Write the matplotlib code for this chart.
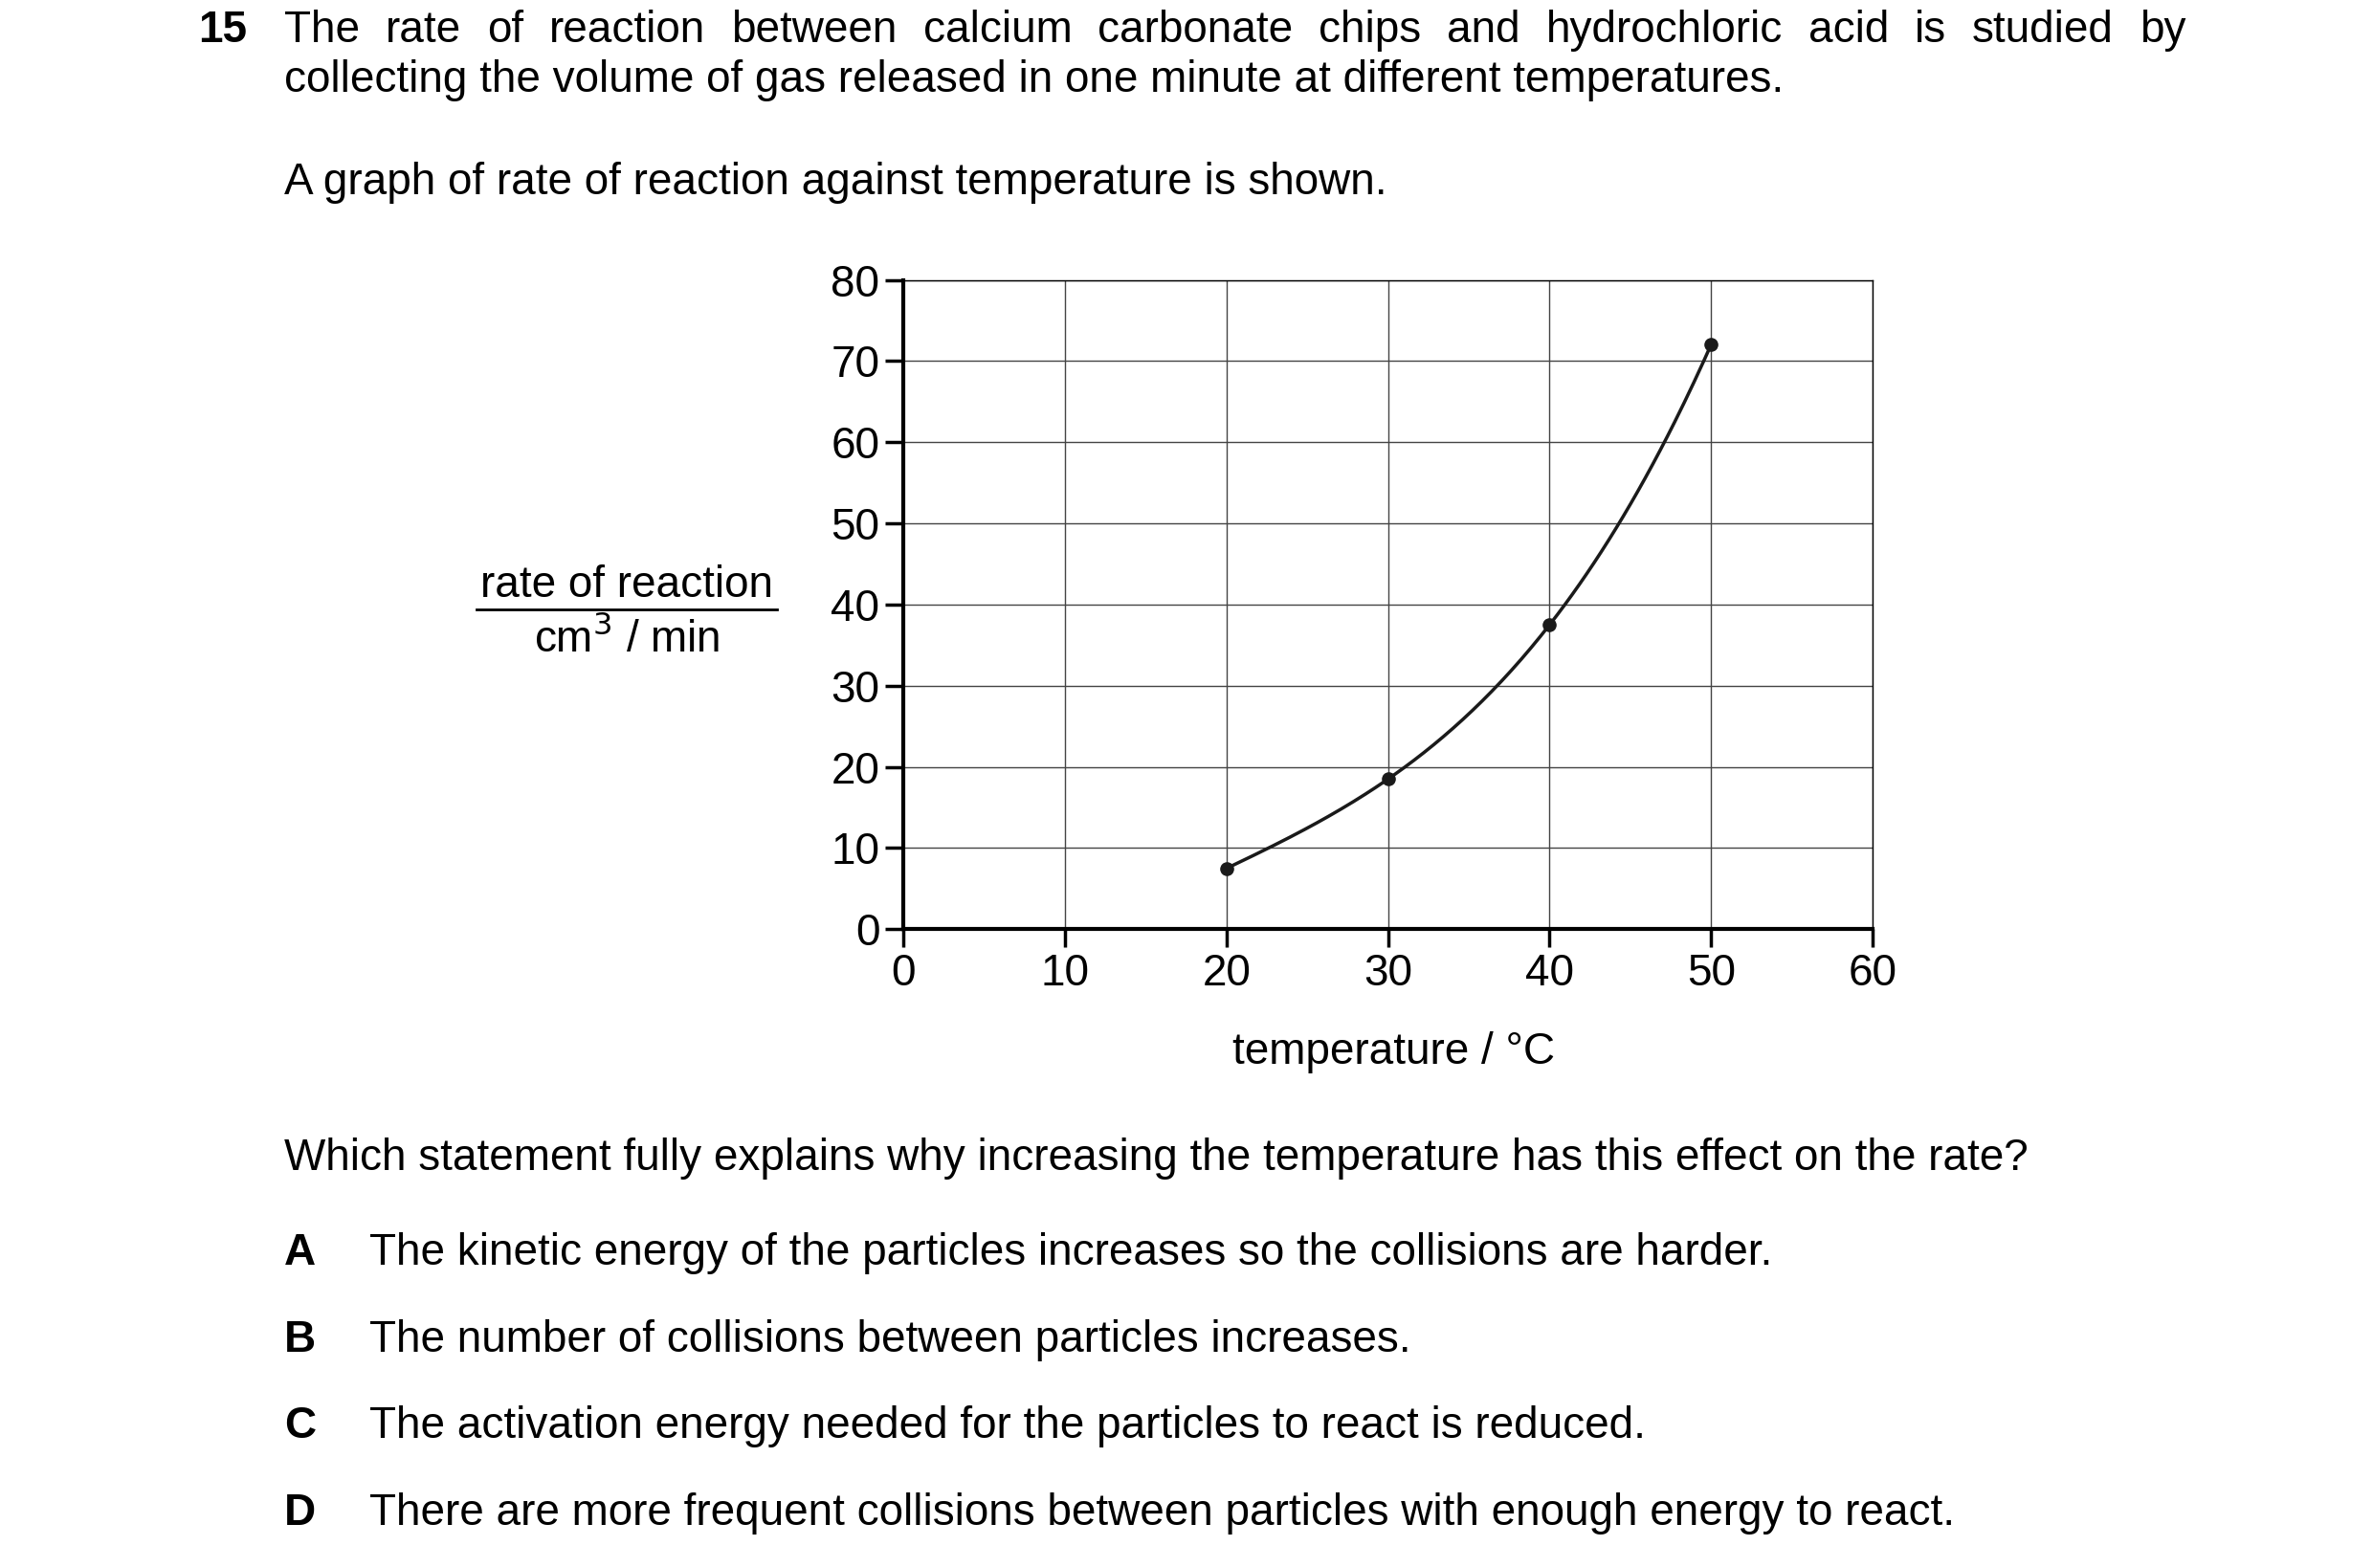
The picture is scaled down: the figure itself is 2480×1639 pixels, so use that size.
import matplotlib.pyplot as plt
import numpy as np

plt.rcParams['font.family'] = ['Liberation Sans', 'DejaVu Sans']

temperature = [20, 30, 40, 50]
rate = [7.5, 18.5, 37.5, 72]
x_ticks = [0, 10, 20, 30, 40, 50, 60]
y_ticks = [0, 10, 20, 30, 40, 50, 60, 70, 80]

W, H = 1560, 1031
fig = plt.figure(figsize=(24.8, 16.39), dpi=100)
fs = 33

def fx(x): return x / W
def fy(y): return 1 - y / H

fig.text(fx(130), fy(20), '15', fontsize=fs, fontweight='bold', va='center')

# justified first line: place words one by one
words = 'The rate of reaction between calcium carbonate chips and hydrochloric acid is studied by'.split()
renderer = fig.canvas.get_renderer()
objs = [fig.text(0, fy(20), w, fontsize=fs, va='center') for w in words]
widths = [o.get_window_extent(renderer).width / fig.bbox.width for o in objs]
gap = (fx(1437) - fx(187) - sum(widths)) / (len(words) - 1)
x = fx(187)
for o, w in zip(objs, widths):
    o.set_x(x)
    x += w + gap

fig.text(fx(187), fy(53), 'collecting the volume of gas released in one minute at different temperatures.',
         fontsize=fs, va='center')
fig.text(fx(187), fy(120), 'A graph of rate of reaction against temperature is shown.', fontsize=fs, va='center')

ax = fig.add_axes([fx(594), fy(611), fx(1231) - fx(594), fy(184) - fy(611)])
ax.set_xlim(0, 60)
ax.set_ylim(0, 80)
ax.set_xticks(x_ticks)
ax.set_yticks(y_ticks)
ax.tick_params(labelsize=fs, length=14, width=2.5, direction='out', pad=4)
ax.grid(True, color='#444444', linewidth=1)
for s in ['top', 'right']:
    ax.spines[s].set_linewidth(1)
for s in ['left', 'bottom']:
    ax.spines[s].set_linewidth(3)

coef = np.polyfit(temperature, rate, 3)
xs = np.linspace(temperature[0], temperature[-1], 200)
ax.plot(xs, np.polyval(coef, xs), color='#1a1a1a', linewidth=2.5)
ax.scatter(temperature, rate, color='#1a1a1a', s=90, zorder=3)

fig.text(fx(916), fy(692), 'temperature / °C', fontsize=fs, ha='center', va='center')
fig.text(fx(412), fy(385), 'rate of reaction', fontsize=fs, ha='center', va='center')
fig.text(fx(412), fy(420), 'cm$^3$ / min', fontsize=fs, ha='center', va='center')
fig.add_artist(plt.Line2D([fx(313), fx(511)], [fy(401), fy(401)], color='black', linewidth=2))

fig.text(fx(187), fy(762), 'Which statement fully explains why increasing the temperature has this effect on the rate?',
         fontsize=fs, va='center')
options = [('A', 'The kinetic energy of the particles increases so the collisions are harder.'),
           ('B', 'The number of collisions between particles increases.'),
           ('C', 'The activation energy needed for the particles to react is reduced.'),
           ('D', 'There are more frequent collisions between particles with enough energy to react.')]
for i, (k, t) in enumerate(options):
    y = 824 + i * 57
    fig.text(fx(187), fy(y), k, fontsize=fs, fontweight='bold', va='center')
    fig.text(fx(243), fy(y), t, fontsize=fs, va='center')

fig.savefig('out.png', dpi=100, facecolor='white')
